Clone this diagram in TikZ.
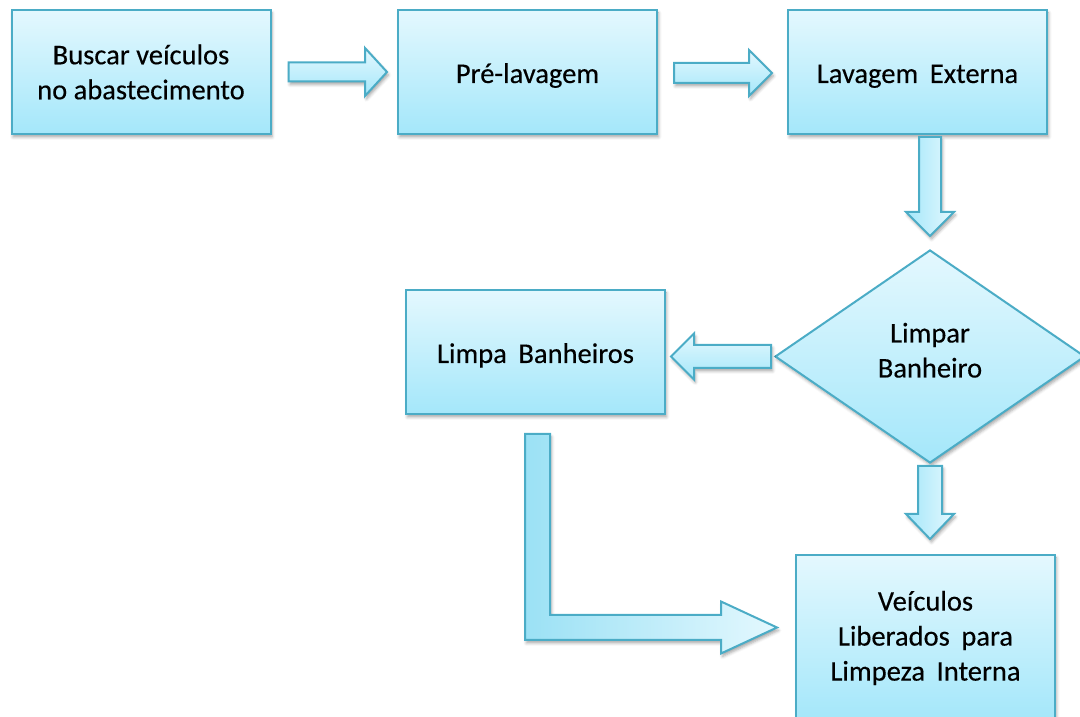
\documentclass[tikz,border=0pt]{standalone}
\usepackage{fontspec}
\setmainfont[FakeBold=0.3]{Carlito}
\newfontfamily\widefont[WordSpace=1.8,FakeBold=0.3]{Carlito}
\usetikzlibrary{shapes.geometric,calc,shadows.blur}

\definecolor{edge}{RGB}{75,172,198}
\definecolor{filltop}{RGB}{228,248,254}
\definecolor{fillbot}{RGB}{164,231,250}

\tikzset{
  x=1pt, y=1pt,
  softshadow/.style={blur shadow={shadow xshift=1.5pt, shadow yshift=-3pt,
      shadow blur radius=3pt, shadow opacity=35}},
  flow/.style={draw=edge, line width=2pt, top color=filltop, bottom color=fillbot,
      softshadow, font=\fontsize{28.5}{35}\selectfont, align=center},
  box/.style={flow, rectangle, minimum width=259, minimum height=124, inner sep=0},
  oneline/.style={text height=26pt, text depth=4pt},
  decision/.style={flow, diamond, aspect=1.455, minimum width=310,
      minimum height=213, inner sep=0, text height=50pt, text depth=8pt},
  hblock/.style={draw=edge, line width=2pt, top color=filltop, bottom color=fillbot, softshadow},
  vblock/.style={draw=edge, line width=2pt, left color=fillbot, right color=filltop, softshadow},
  lblock/.style={draw=edge, line width=2pt, left color=fillbot!90!edge, right color=filltop, softshadow}
}

% block arrows: start point, tip, half shaft width, half head width, head length
\newcommand\rightblock[5]{%
  \path[hblock] let \p1=(#1), \p2=(#2) in
    (\x1,\y1+#3) -- (\x2-#5,\y1+#3) -- (\x2-#5,\y1+#4) -- (\x2,\y1)
    -- (\x2-#5,\y1-#4) -- (\x2-#5,\y1-#3) -- (\x1,\y1-#3) -- cycle;}
\newcommand\leftblock[5]{%
  \path[hblock] let \p1=(#1), \p2=(#2) in
    (\x1,\y1+#3) -- (\x2+#5,\y1+#3) -- (\x2+#5,\y1+#4) -- (\x2,\y1)
    -- (\x2+#5,\y1-#4) -- (\x2+#5,\y1-#3) -- (\x1,\y1-#3) -- cycle;}
\newcommand\downblock[5]{%
  \path[vblock] let \p1=(#1), \p2=(#2) in
    (\x1-#3,\y1) -- (\x1-#3,\y2+#5) -- (\x1-#4,\y2+#5) -- (\x1,\y2)
    -- (\x1+#4,\y2+#5) -- (\x1+#3,\y2+#5) -- (\x1+#3,\y1) -- cycle;}

\begin{document}
\begin{tikzpicture}
\useasboundingbox (0,0) rectangle (1080,717);

% process steps
\node[box] (buscar) at (141,645) {Buscar veículos\\no abastecimento};
\node[box, oneline] (pre) at (527.5,645) {Pré-lavagem};
\node[box, oneline] (lav) at (917.5,645) {\widefont Lavagem Externa};
\node[decision] (dia) at (930,360.5) {Limpar\\Banheiro};
\node[box, oneline] (limpa) at (535.5,365) {\widefont Limpa Banheiros};
\node[box, minimum height=166] (vei) at (925.5,79)
  {\widefont Veículos\\\widefont Liberados para\\\widefont Limpeza Interna};

% arrow end points
\coordinate (a1s) at ($(buscar.east)+(17,0)$);
\coordinate (a1t) at ($(pre.west)+(-10,0)$);
\coordinate (a2s) at ($(pre.east)+(16,-1)$);
\coordinate (a2t) at ($(lav.west)+(-15,-1)$);
\coordinate (a3s) at ($(dia.north |- lav.south)+(0,-2)$);
\coordinate (a3t) at ($(dia.north)+(0,13)$);
\coordinate (a4s) at ($(dia.west)+(-3,0)$);
\coordinate (a4t) at ($(limpa.east |- dia.west)+(5,0)$);
\coordinate (a5s) at ($(dia.south)+(0,-2)$);
\coordinate (a5t) at ($(dia.south |- vei.north)+(0,15)$);
\coordinate (lcs) at ($(limpa.south)+(2,-19)$);
\coordinate (lct) at ($(vei.west)+(-18,10.5)$);

% connectors
\rightblock{a1s}{a1t}{9.5}{24}{22}
\rightblock{a2s}{a2t}{10}{23}{23}
\downblock{a3s}{a3t}{11}{24}{24}
\leftblock{a4s}{a4t}{11.5}{23}{23}
\downblock{a5s}{a5t}{12}{24}{25}
\path[lblock] let \p1=(lcs), \p2=(lct) in
  (\x1-12.5,\y1) -- (\x1+12.5,\y1) -- (\x1+12.5,\y2+12.5) -- (\x2-56,\y2+12.5)
  -- (\x2-56,\y2+26) -- (\x2,\y2) -- (\x2-56,\y2-26) -- (\x2-56,\y2-12.5)
  -- (\x1-12.5,\y2-12.5) -- cycle;
\end{tikzpicture}
\end{document}
